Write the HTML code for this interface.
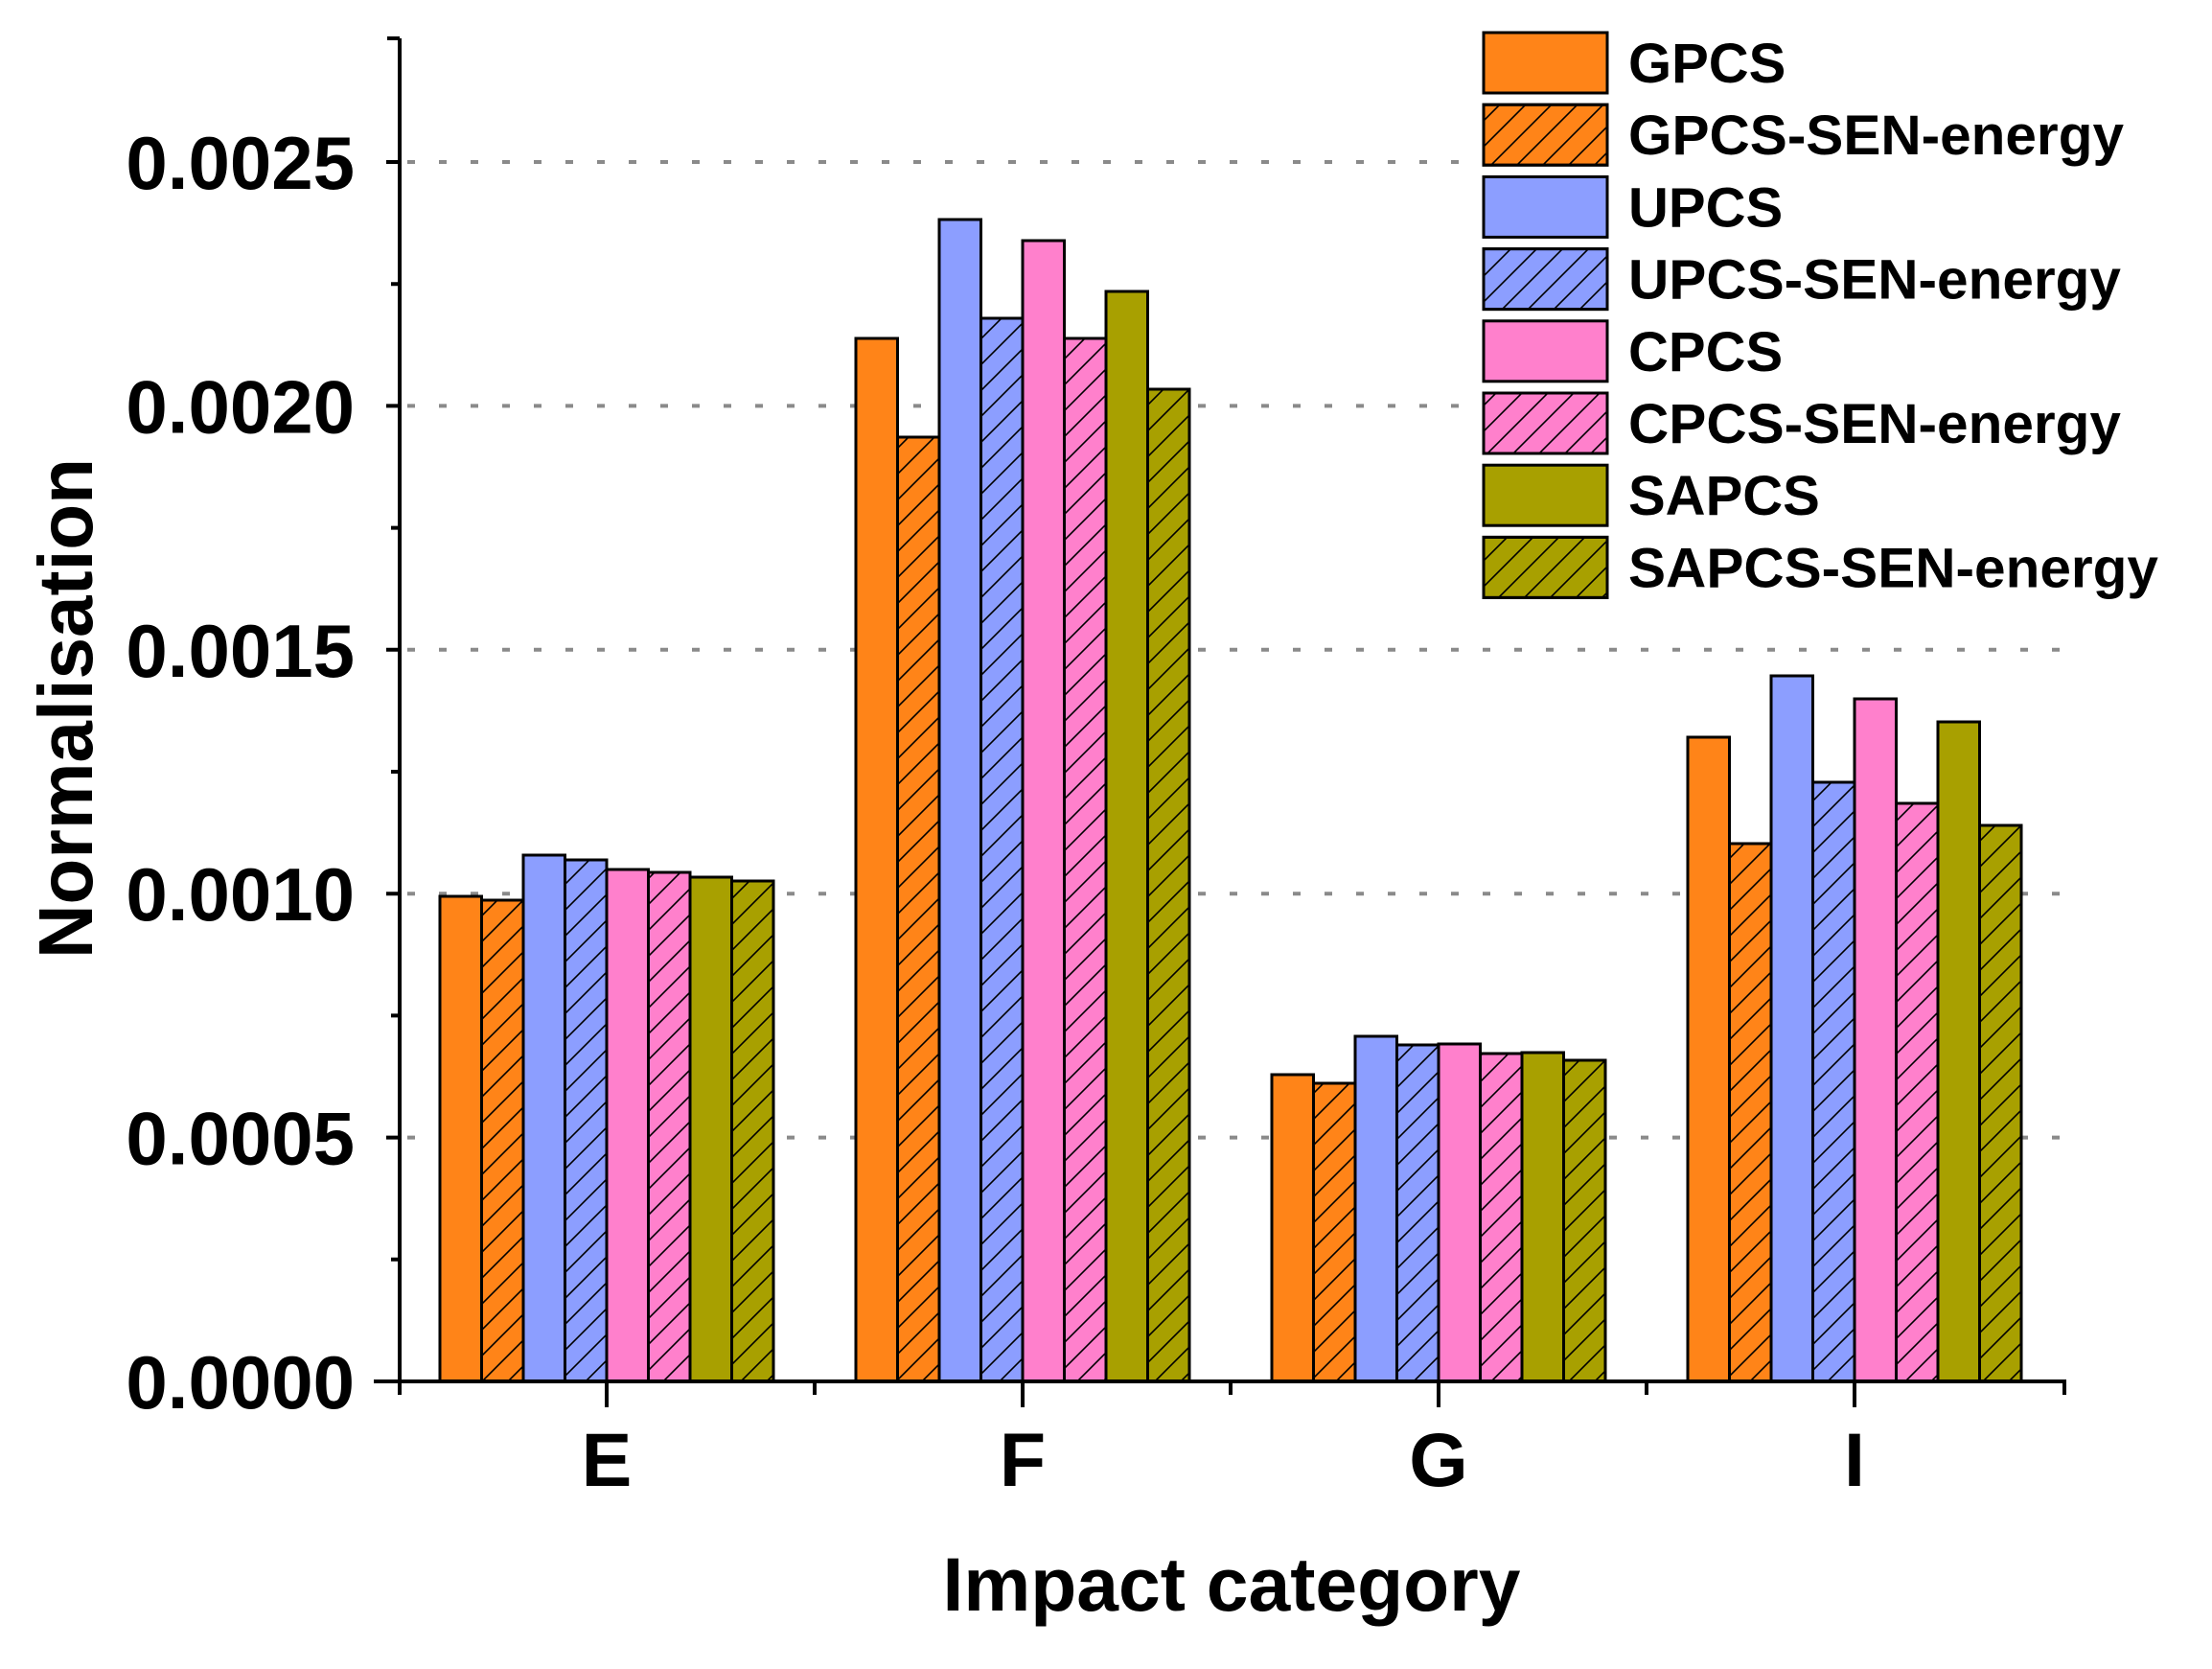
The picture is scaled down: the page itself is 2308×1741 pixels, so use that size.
<!DOCTYPE html>
<html><head><meta charset="utf-8"><style>html,body{margin:0;padding:0;background:#fff}svg{display:block}</style></head>
<body>
<svg width="2308" height="1741" viewBox="0 0 2308 1741" xmlns="http://www.w3.org/2000/svg" font-family="Liberation Sans, sans-serif" font-weight="bold">
<defs>
<pattern id="h" patternUnits="userSpaceOnUse" width="27" height="27">
<path d="M-2,29 L29,-2 M-2,2 L2,-2 M25,29 L29,25" stroke="#000" stroke-width="1.6"/>
</pattern>
</defs>
<rect width="2308" height="1741" fill="#fff"/>
<g stroke="#8a8a8a" stroke-width="4" stroke-dasharray="8,25">
<line x1="425" y1="1186.6" x2="2154" y2="1186.6"/>
<line x1="425" y1="932.2" x2="2154" y2="932.2"/>
<line x1="425" y1="677.8" x2="2154" y2="677.8"/>
<line x1="425" y1="423.4" x2="2154" y2="423.4"/>
<line x1="425" y1="169" x2="2154" y2="169"/>
</g>
<rect x="1535" y="28" width="740" height="612" fill="#fff"/>
<g stroke="#000" stroke-width="3">
<rect x="459" y="935" width="43.5" height="506" fill="#FF8418"/>
<rect x="502.5" y="939" width="43.5" height="502" fill="#FF8418"/><rect x="502.5" y="939" width="43.5" height="502" fill="url(#h)"/>
<rect x="546" y="892" width="43.5" height="549" fill="#8C9EFF"/>
<rect x="589.5" y="897" width="43.5" height="544" fill="#8C9EFF"/><rect x="589.5" y="897" width="43.5" height="544" fill="url(#h)"/>
<rect x="633" y="907" width="43.5" height="534" fill="#FF80CC"/>
<rect x="676.5" y="910" width="43.5" height="531" fill="#FF80CC"/><rect x="676.5" y="910" width="43.5" height="531" fill="url(#h)"/>
<rect x="720" y="915" width="43.5" height="526" fill="#A8A000"/>
<rect x="763.5" y="919" width="43.5" height="522" fill="#A8A000"/><rect x="763.5" y="919" width="43.5" height="522" fill="url(#h)"/>
<rect x="893" y="353" width="43.5" height="1088" fill="#FF8418"/>
<rect x="936.5" y="456" width="43.5" height="985" fill="#FF8418"/><rect x="936.5" y="456" width="43.5" height="985" fill="url(#h)"/>
<rect x="980" y="229" width="43.5" height="1212" fill="#8C9EFF"/>
<rect x="1023.5" y="332" width="43.5" height="1109" fill="#8C9EFF"/><rect x="1023.5" y="332" width="43.5" height="1109" fill="url(#h)"/>
<rect x="1067" y="251" width="43.5" height="1190" fill="#FF80CC"/>
<rect x="1110.5" y="353" width="43.5" height="1088" fill="#FF80CC"/><rect x="1110.5" y="353" width="43.5" height="1088" fill="url(#h)"/>
<rect x="1154" y="304" width="43.5" height="1137" fill="#A8A000"/>
<rect x="1197.5" y="406" width="43.5" height="1035" fill="#A8A000"/><rect x="1197.5" y="406" width="43.5" height="1035" fill="url(#h)"/>
<rect x="1327" y="1121" width="43.5" height="320" fill="#FF8418"/>
<rect x="1370.5" y="1130" width="43.5" height="311" fill="#FF8418"/><rect x="1370.5" y="1130" width="43.5" height="311" fill="url(#h)"/>
<rect x="1414" y="1081" width="43.5" height="360" fill="#8C9EFF"/>
<rect x="1457.5" y="1090" width="43.5" height="351" fill="#8C9EFF"/><rect x="1457.5" y="1090" width="43.5" height="351" fill="url(#h)"/>
<rect x="1501" y="1089" width="43.5" height="352" fill="#FF80CC"/>
<rect x="1544.5" y="1099" width="43.5" height="342" fill="#FF80CC"/><rect x="1544.5" y="1099" width="43.5" height="342" fill="url(#h)"/>
<rect x="1588" y="1098" width="43.5" height="343" fill="#A8A000"/>
<rect x="1631.5" y="1106" width="43.5" height="335" fill="#A8A000"/><rect x="1631.5" y="1106" width="43.5" height="335" fill="url(#h)"/>
<rect x="1761" y="769" width="43.5" height="672" fill="#FF8418"/>
<rect x="1804.5" y="880" width="43.5" height="561" fill="#FF8418"/><rect x="1804.5" y="880" width="43.5" height="561" fill="url(#h)"/>
<rect x="1848" y="705" width="43.5" height="736" fill="#8C9EFF"/>
<rect x="1891.5" y="816" width="43.5" height="625" fill="#8C9EFF"/><rect x="1891.5" y="816" width="43.5" height="625" fill="url(#h)"/>
<rect x="1935" y="729" width="43.5" height="712" fill="#FF80CC"/>
<rect x="1978.5" y="838" width="43.5" height="603" fill="#FF80CC"/><rect x="1978.5" y="838" width="43.5" height="603" fill="url(#h)"/>
<rect x="2022" y="753" width="43.5" height="688" fill="#A8A000"/>
<rect x="2065.5" y="861" width="43.5" height="580" fill="#A8A000"/><rect x="2065.5" y="861" width="43.5" height="580" fill="url(#h)"/>
</g>
<g stroke="#000" stroke-width="4" fill="none">
<line x1="417" y1="40" x2="417" y2="1443"/>
<line x1="390" y1="1441" x2="2156" y2="1441"/>
<path d="M403,1441H417 M403,1186.6H417 M403,932.2H417 M403,677.8H417 M403,423.4H417 M403,169H417 M404,40H417"/>
<path d="M408,1313.8H417 M408,1059.4H417 M408,805H417 M408,550.6H417 M408,296.2H417"/>
<path d="M633,1441V1468 M1067,1441V1468 M1501,1441V1468 M1935,1441V1468"/>
<path d="M417,1441V1455 M850,1441V1455 M1284,1441V1455 M1718,1441V1455 M2154,1441V1455"/>
</g>
<g font-size="78" text-anchor="end" fill="#000">
<text x="370" y="1469">0.0000</text>
<text x="370" y="1214.6">0.0005</text>
<text x="370" y="960.2">0.0010</text>
<text x="370" y="705.8">0.0015</text>
<text x="370" y="451.4">0.0020</text>
<text x="370" y="197">0.0025</text>
</g>
<g font-size="79" text-anchor="middle" fill="#000">
<text x="633" y="1550">E</text>
<text x="1067" y="1550">F</text>
<text x="1501" y="1550">G</text>
<text x="1935" y="1550">I</text>
</g>
<text x="1285" y="1680" font-size="79" text-anchor="middle" textLength="603" lengthAdjust="spacingAndGlyphs">Impact category</text>
<text transform="translate(96,739) rotate(-90)" font-size="80" text-anchor="middle" textLength="522" lengthAdjust="spacingAndGlyphs">Normalisation</text>
<g stroke="#000" stroke-width="3">
<rect x="1548" y="34" width="129" height="63" fill="#FF8418"/>
<rect x="1548" y="109.2" width="129" height="63" fill="#FF8418"/><rect x="1548" y="109.2" width="129" height="63" fill="url(#h)"/>
<rect x="1548" y="184.4" width="129" height="63" fill="#8C9EFF"/>
<rect x="1548" y="259.6" width="129" height="63" fill="#8C9EFF"/><rect x="1548" y="259.6" width="129" height="63" fill="url(#h)"/>
<rect x="1548" y="334.8" width="129" height="63" fill="#FF80CC"/>
<rect x="1548" y="410" width="129" height="63" fill="#FF80CC"/><rect x="1548" y="410" width="129" height="63" fill="url(#h)"/>
<rect x="1548" y="485.2" width="129" height="63" fill="#A8A000"/>
<rect x="1548" y="560.4" width="129" height="63" fill="#A8A000"/><rect x="1548" y="560.4" width="129" height="63" fill="url(#h)"/>
</g>
<g font-size="58" fill="#000">
<text x="1699" y="86">GPCS</text>
<text x="1699" y="161.2" textLength="517" lengthAdjust="spacingAndGlyphs">GPCS-SEN-energy</text>
<text x="1699" y="236.4">UPCS</text>
<text x="1699" y="311.6" textLength="514" lengthAdjust="spacingAndGlyphs">UPCS-SEN-energy</text>
<text x="1699" y="386.8">CPCS</text>
<text x="1699" y="462" textLength="514" lengthAdjust="spacingAndGlyphs">CPCS-SEN-energy</text>
<text x="1699" y="537.2">SAPCS</text>
<text x="1699" y="612.4" textLength="553" lengthAdjust="spacingAndGlyphs">SAPCS-SEN-energy</text>
</g>
</svg>
</body></html>
